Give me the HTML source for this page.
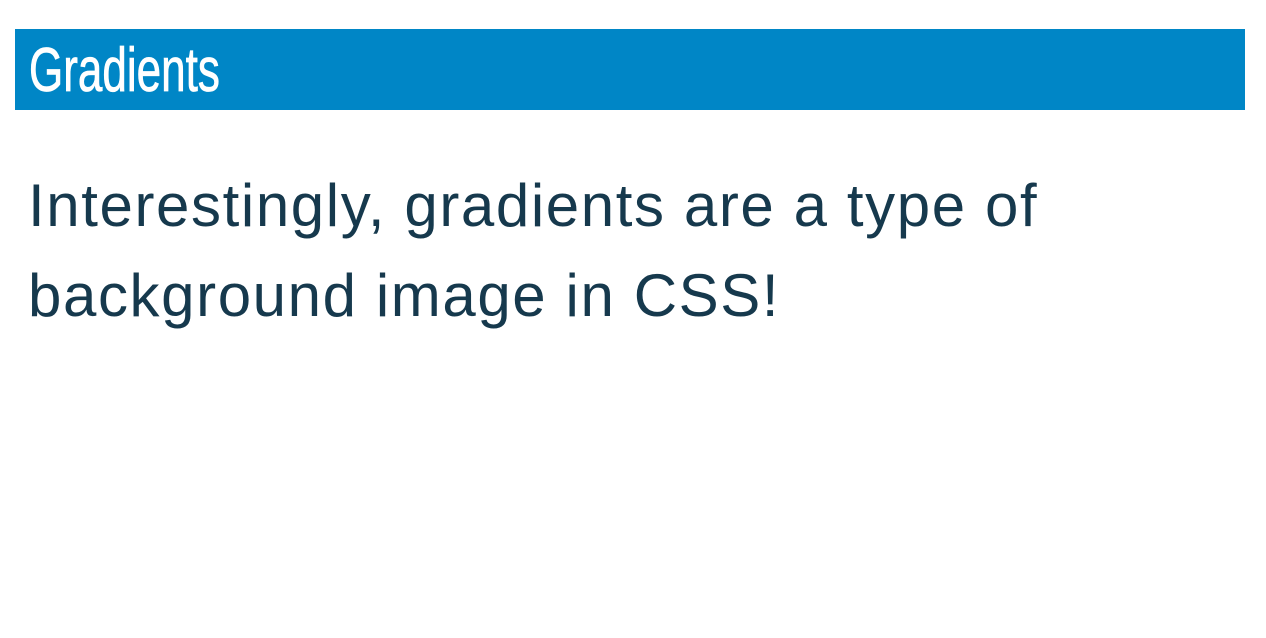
<!DOCTYPE html>
<html>
<head>
<meta charset="utf-8">
<style>
  html, body { margin: 0; padding: 0; background: #ffffff; width: 1266px; height: 638px; overflow: hidden; }
  .header {
    position: absolute; left: 15px; top: 29px; width: 1230px; height: 81px;
    background: #0086c6;
  }
  .title {
    position: absolute; left: 14px; top: 8px;
    font-family: "Liberation Sans Narrow", "Liberation Sans", sans-serif;
    font-size: 62px; color: #ffffff; line-height: 68px;
    transform: scaleX(0.71); transform-origin: left top;
    -webkit-text-stroke: 0.8px #ffffff;
  }
  .body-text {
    position: absolute; left: 28px; top: 161px; width: 1230px;
    font-family: "Liberation Sans", sans-serif;
    font-size: 60px; line-height: 90px; color: #16394d;
    letter-spacing: 1.6px;
  }
</style>
</head>
<body>
  <div class="header">
    <div class="title">Gradients</div>
  </div>
  <div class="body-text">Interestingly, gradients are a type of<br>background image in CSS!</div>
</body>
</html>
